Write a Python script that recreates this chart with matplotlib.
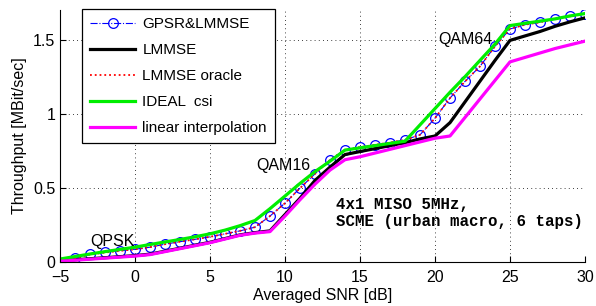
import numpy as np
import matplotlib
matplotlib.use('Agg')
import matplotlib.pyplot as plt

plt.rcParams['font.family'] = ['Liberation Sans', 'DejaVu Sans']

snr = np.arange(-5, 31)
snr_gpsr = np.arange(-4, 31)

gpsr = [0.025, 0.052, 0.065, 0.076, 0.086, 0.10, 0.12, 0.137, 0.153, 0.17,
        0.19, 0.21, 0.235, 0.31, 0.397, 0.498, 0.595, 0.689, 0.757, 0.775,
        0.79, 0.806, 0.824, 0.858, 0.97, 1.106, 1.218, 1.32, 1.455, 1.572,
        1.601, 1.617, 1.64, 1.657, 1.676]
oracle = [0.02, 0.027, 0.05, 0.064, 0.075, 0.086, 0.10, 0.12, 0.137, 0.153, 0.17,
          0.19, 0.21, 0.235, 0.31, 0.397, 0.498, 0.595, 0.689, 0.757, 0.775,
          0.79, 0.806, 0.824, 0.858, 0.97, 1.106, 1.218, 1.32, 1.455, 1.572,
          1.601, 1.617, 1.64, 1.657, 1.676]
lmmse = [0.008, 0.015, 0.022, 0.029, 0.036, 0.043, 0.053, 0.073, 0.093, 0.113, 0.133,
         0.158, 0.183, 0.198, 0.21, 0.32, 0.43, 0.55, 0.64, 0.725, 0.745,
         0.765, 0.785, 0.805, 0.83, 0.85, 0.94, 1.08, 1.22, 1.36, 1.495,
         1.525, 1.555, 1.59, 1.62, 1.647]
ideal = [0.02, 0.037, 0.054, 0.07, 0.085, 0.10, 0.118, 0.135, 0.152, 0.17, 0.19,
         0.215, 0.245, 0.28, 0.36, 0.445, 0.53, 0.61, 0.68, 0.755, 0.77,
         0.785, 0.80, 0.815, 0.925, 1.035, 1.145, 1.25, 1.36, 1.47, 1.595,
         1.61, 1.625, 1.64, 1.66, 1.676]
linear = [0.005, 0.012, 0.019, 0.026, 0.033, 0.04, 0.05, 0.07, 0.09, 0.11, 0.13,
          0.155, 0.18, 0.195, 0.205, 0.31, 0.42, 0.525, 0.62, 0.69, 0.71,
          0.735, 0.76, 0.785, 0.81, 0.835, 0.85, 0.975, 1.10, 1.225, 1.35,
          1.38, 1.41, 1.44, 1.465, 1.49]

fig = plt.figure(figsize=(5.96, 3.06), dpi=100)
ax = fig.add_axes([60 / 596, 44 / 306, 525 / 596, 252 / 306])

ax.plot(snr_gpsr, gpsr, '-.', color='blue', marker='o', markersize=7,
        markerfacecolor='none', markeredgewidth=0.9, linewidth=0.8, label='GPSR&LMMSE')
ax.plot(snr, lmmse, '-', color='black', linewidth=2.3, label='LMMSE')
ax.plot(snr, oracle, ':', color='red', linewidth=1.3, label='LMMSE oracle')
ax.plot(snr, ideal, '-', color='#00ee00', linewidth=2.3, label='IDEAL  csi')
ax.plot(snr, linear, '-', color='magenta', linewidth=2.3, label='linear interpolation')

ax.set_xlim(-5, 30)
ax.set_ylim(0, 1.7)
ax.set_xticks(np.arange(-5, 31, 5))
ax.set_yticks([0, 0.5, 1, 1.5])
ax.set_yticklabels(['0', '0.5', '1', '1.5'])
ax.grid(True, linestyle=(0, (1, 4)), color='black', linewidth=0.6)
ax.tick_params(direction='in', labelsize=11.5, length=4)
ax.tick_params(axis='x', pad=6)
ax.spines['top'].set_visible(False)
ax.spines['right'].set_visible(False)

ax.set_xlabel('Averaged SNR [dB]', fontsize=11.5, labelpad=2)
ax.set_ylabel('Throughput [MBit/sec]', fontsize=11.5, labelpad=4)

ax.text(-3, 0.11, 'QPSK', fontsize=11.5)
ax.text(8.1, 0.62, 'QAM16', fontsize=11.5)
ax.text(20.2, 1.47, 'QAM64', fontsize=11.5)
ax.text(13.4, 0.24, '4x1 MISO 5MHz,\nSCME (urban macro, 6 taps)',
        family='Liberation Mono', fontweight='bold', fontsize=11.3, linespacing=1.2)

leg = ax.legend(loc='upper left', bbox_to_anchor=(82 / 596, 1 - 9 / 306),
                bbox_transform=fig.transFigure, borderaxespad=0, fontsize=11,
                handlelength=2.9, handletextpad=0.5, labelspacing=0.78,
                fancybox=False, framealpha=1, borderpad=0.55)
leg.get_frame().set_edgecolor('black')
leg.get_frame().set_linewidth(0.9)

fig.savefig('out.png', dpi=100)
